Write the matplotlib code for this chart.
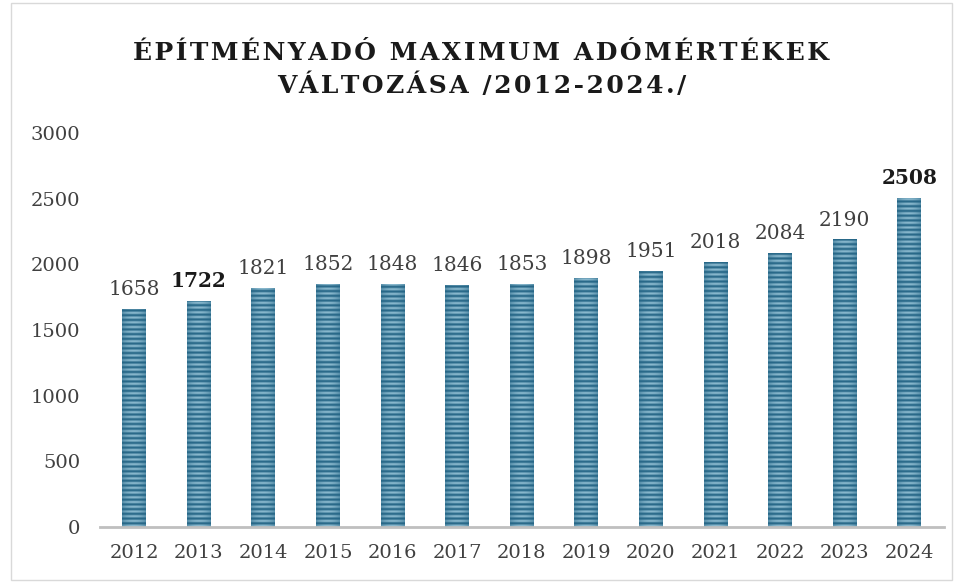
import matplotlib
matplotlib.use("Agg")
import matplotlib.pyplot as plt
import numpy as np
from matplotlib.patches import Rectangle

years = ["2012", "2013", "2014", "2015", "2016", "2017", "2018",
         "2019", "2020", "2021", "2022", "2023", "2024"]
values = [1658, 1722, 1821, 1852, 1848, 1846, 1853, 1898, 1951, 2018, 2084, 2190, 2508]
bold_years = ["2013", "2024"]
title = "ÉPÍTMÉNYADÓ MAXIMUM ADÓMÉRTÉKEK\nVÁLTOZÁSA /2012-2024./"

font = ["DejaVu Serif", "DejaVu Sans"]
fig = plt.figure(figsize=(9.57, 5.82), dpi=100)
ax = fig.add_axes([0.1045, 0.0945, 0.882, 0.677])

x = np.arange(len(years))
bars = ax.bar(x, values, width=0.37, color="none", edgecolor="none")

# striped bars, slightly lighter towards the centre
dark = np.array([0x17, 0x5a, 0x7c]) / 255.0
light = np.array([0xa6, 0xd0, 0xe2]) / 255.0
nrow, ncol = 1200, 40
u = np.linspace(0, 1, ncol)
t = 1 - np.abs(2 * u - 1) ** 2
yy = np.linspace(0, 3000, nrow)
stripe = 0.5 + 0.5 * np.sin(yy / 36.0 * 2 * np.pi)
mix = 0.08 + 0.42 * stripe[:, None] + 0.35 * t[None, :] * stripe[:, None]
img = dark[None, None, :] + (light - dark)[None, None, :] * np.clip(mix, 0, 1)[:, :, None]
for b in bars:
    x0 = b.get_x()
    im = ax.imshow(img, extent=(x0, x0 + b.get_width(), 0, 3000), origin="lower",
                   aspect="auto", interpolation="bilinear", zorder=2)
    im.set_clip_path(b)

for xi, yr, v in zip(x, years, values):
    ax.text(xi, v + 75, str(v), ha="center", va="bottom", family=font, fontsize=14.5,
            color="#1a1a1a" if yr in bold_years else "#404040",
            fontweight="bold" if yr in bold_years else "normal")

ax.set_xlim(-0.53, 12.54)
ax.set_ylim(0, 3000)
ax.set_yticks(range(0, 3001, 500))
ax.set_xticks(x)
ax.set_xticklabels(years)
for lab in ax.get_xticklabels() + ax.get_yticklabels():
    lab.set_family(font)
    lab.set_fontsize(14)
    lab.set_color("#404040")
ax.tick_params(length=0)
ax.tick_params(axis="y", pad=14)
ax.tick_params(axis="x", pad=12)
for s in ["top", "right", "left"]:
    ax.spines[s].set_visible(False)
ax.spines["bottom"].set_color("#bfbfbf")
ax.spines["bottom"].set_linewidth(2)

sp = "\u200a"
lines = title.split("\n")
spaced = "\n".join(sp.join(list(l)) for l in lines)
fig.text(0.503, 0.881, spaced, ha="center", va="center", family=font, fontsize=18,
         fontweight="bold", color="#1a1a1a", linespacing=1.45)

fig.patches.append(Rectangle((0.011, 0.004), 0.984, 0.99, transform=fig.transFigure,
                             fill=False, edgecolor="#d9d9d9", linewidth=1))

fig.savefig("out.png", dpi=100)
